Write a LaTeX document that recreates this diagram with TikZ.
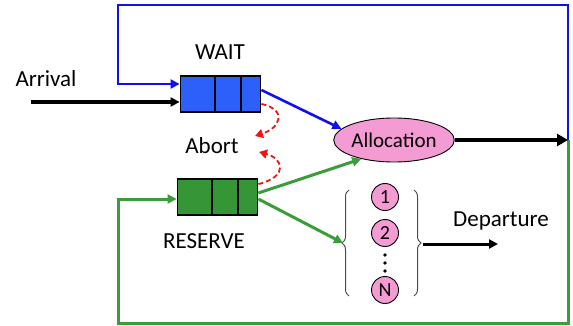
\documentclass[tikz,border=0pt]{standalone}
\usepackage{fontspec}
\setmainfont{Carlito}
\usetikzlibrary{arrows.meta,shapes.geometric,decorations.pathreplacing}

\definecolor{linkblue}{RGB}{15,15,240}
\definecolor{qblue}{RGB}{45,95,250}
\definecolor{linkgreen}{RGB}{58,156,58}
\definecolor{qgreen}{RGB}{52,150,52}
\definecolor{pinkfill}{RGB}{245,155,212}
\definecolor{abortred}{RGB}{240,20,20}

\tikzset{
  lbl/.style={font=\fontsize{23}{26}\selectfont, inner sep=0pt},
  queue/.style={draw=black, line width=1.8pt, minimum width=80pt, minimum height=36pt, inner sep=0pt},
  server/.style={circle, draw=black, line width=0.9pt, fill=pinkfill, minimum size=27pt, inner sep=0pt, font=\fontsize{20}{22}\selectfont},
  tip/.style={-{Triangle[length=9pt,width=9pt]}},
  bluelink/.style={linkblue, line width=2.6pt},
  greenlink/.style={linkgreen, line width=3pt},
  abortlink/.style={abortred, line width=1.8pt, dash pattern=on 5pt off 3pt, -{Triangle[length=8pt,width=9pt]}},
  bracestyle/.style={draw=black!70, line width=1pt, decorate, decoration={brace, amplitude=7pt}}
}

\begin{document}
\begin{tikzpicture}[x=1pt,y=-1pt]
  \useasboundingbox (0,0) rectangle (573,326);

  % queues
  \node[queue, fill=qblue] (wait) at (220.5,94) {};
  \node[queue, fill=qgreen] (reserve) at (217.5,197) {};
  \foreach \q in {wait,reserve}{
    \draw[line width=1.8pt] ([xshift=35.5pt]\q.north west) -- ([xshift=35.5pt]\q.south west);
    \draw[line width=1.8pt] ([xshift=61.5pt]\q.north west) -- ([xshift=61.5pt]\q.south west);
  }

  % allocation and servers
  \node[ellipse, draw=black, line width=0.9pt, fill=pinkfill, minimum width=105pt, minimum height=44pt, inner sep=0pt,
        font=\fontsize{21}{23}\selectfont] (alloc) at (394,140) {Allocation};
  \node[server] (s1) at (385,197) {1};
  \node[server] (s2) at (385,233) {2};
  \node[server] (sN) at (385,290) {N};
  \foreach \yy in {255,263,271}{ \fill (385,\yy) circle (1.8pt); }

  % labels
  \node[lbl] (arrival) at (46,79) {Arrival};
  \node[lbl] (waitlbl) at (220,52) {WAIT};
  \node[lbl] (abort) at (212,146) {Abort};
  \node[lbl] (reslbl) at (204,241) {RESERVE};
  \node[lbl] (depart) at (501,221) {Departure};

  % braces around the servers
  \coordinate (lbt) at (349,190);
  \coordinate (lbb) at (349,296);
  \coordinate (rbt) at (414,190);
  \coordinate (rbb) at (414,296);
  \draw[bracestyle] (lbb) -- (lbt);
  \draw[bracestyle] (rbt) -- (rbb);

  % frame coordinates
  \coordinate (arrStart) at (31,102);
  \coordinate (bTopL) at (118,5);
  \coordinate (bTopR) at (568,5);
  \coordinate (bIn) at (118,84);
  \coordinate (exitPt) at (568,140);
  \coordinate (gBotR) at (568,323);
  \coordinate (gBotL) at (118,323);
  \coordinate (gIn) at (118,199);
  \coordinate (brIn) at (343,243);
  \coordinate (depStart) at (423,244);
  \coordinate (depEnd) at (498,244);

  % arrivals
  \draw[line width=3.2pt, tip] (arrStart) -- (arrStart -| wait.west);

  % blue retry loop
  \draw[bluelink, tip] (exitPt) -- (bTopR) -- (bTopL) -- (bIn) -- (bIn -| wait.west);

  % green reserve loop
  \draw[greenlink, tip] (exitPt) -- (gBotR) -- (gBotL) -- (gIn) -- (gIn -| reserve.west);

  % queue to allocation
  \draw[bluelink, tip] ([yshift=4pt]wait.east) -- (alloc.168);
  \draw[greenlink, tip] ([yshift=4pt]reserve.east) -- (alloc.210);
  \draw[greenlink, tip] ([yshift=-2pt]reserve.east) -- (brIn);

  % allocation output
  \draw[line width=4.5pt, -{Triangle[length=11pt,width=12pt]}] (alloc.east) -- (exitPt);

  % departures
  \draw[line width=3pt, tip] (depStart) -- (depEnd);

  % abort paths
  \draw[abortlink] ([yshift=9pt]wait.south east) .. controls (288,110) and (280,128) .. (255,136);
  \draw[abortlink] ([yshift=-6pt]reserve.north east) .. controls (290,176) and (282,158) .. (259,152);
\end{tikzpicture}
\end{document}
